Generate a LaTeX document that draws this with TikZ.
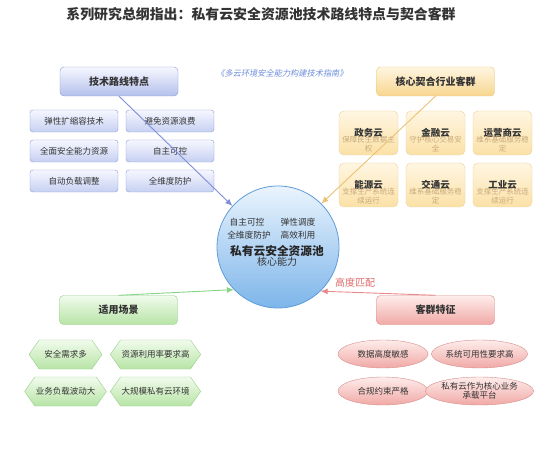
\documentclass[tikz,border=0pt]{standalone}
\usepackage{fontspec}
\setmainfont{Noto Sans CJK SC}
\newfontfamily\slantcjk[FakeSlant=0.2]{Noto Sans CJK SC}
\usetikzlibrary{arrows.meta,shapes.geometric,shapes.symbols}
\definecolor{txt}{HTML}{333333}
\definecolor{bluebd}{HTML}{8C9BD3}
\definecolor{bluetop}{HTML}{F6F7FF}
\definecolor{bluebot}{HTML}{B4C0EC}
\definecolor{boxbot}{HTML}{C6D0F2}
\definecolor{orbd}{HTML}{E9C77E}
\definecolor{ortop}{HTML}{FFF6E2}
\definecolor{orbot}{HTML}{F7D68E}
\definecolor{cardbot}{HTML}{FBE1A6}
\definecolor{cardsub}{HTML}{C4A373}
\definecolor{grbd}{HTML}{96CF88}
\definecolor{grtop}{HTML}{F1FBEC}
\definecolor{grbot}{HTML}{B7E4A6}
\definecolor{pkbd}{HTML}{D98C8C}
\definecolor{pktop}{HTML}{FEEDEB}
\definecolor{pkbot}{HTML}{F0A9A6}
\definecolor{corebd}{HTML}{5E9DDA}
\definecolor{coretop}{HTML}{EAF4FD}
\definecolor{corebot}{HTML}{7DB5EA}
\definecolor{arblue}{HTML}{7F8FD8}
\definecolor{arorange}{HTML}{EBC275}
\definecolor{argreen}{HTML}{86D486}
\definecolor{arred}{HTML}{E98A8A}
\definecolor{italblue}{HTML}{6F8EDC}
\definecolor{matchred}{HTML}{E06A6A}
\tikzset{
  hdr/.style={rounded corners=4pt, minimum width=118pt, minimum height=29pt, font=\fontsize{10}{12}\selectfont\bfseries, text=txt},
  bluehdr/.style={hdr, draw=bluebd, top color=bluetop, bottom color=bluebot},
  orhdr/.style={hdr, draw=orbd, top color=ortop, bottom color=orbot},
  grhdr/.style={hdr, draw=grbd, top color=grtop, bottom color=grbot},
  pkhdr/.style={hdr, draw=pkbd, top color=pktop, bottom color=pkbot},
  bluebox/.style={rounded corners=3pt, minimum width=88pt, minimum height=22pt, draw=bluebd, top color=bluetop, bottom color=boxbot, font=\fontsize{8.5}{10}\selectfont, text=txt},
  card/.style={rounded corners=5pt, minimum width=59pt, minimum height=44pt, draw=orbd!80, top color=ortop, bottom color=cardbot},
  cardtitle/.style={font=\fontsize{9.5}{11}\selectfont\bfseries, text=txt, inner sep=0pt},
  cardsubt/.style={font=\fontsize{7.5}{9}\selectfont, text=cardsub, align=center, inner sep=0pt, opacity=0.9},
  hexa/.style={signal, signal to=west and east, signal pointer angle=110, minimum height=29pt, inner xsep=1pt, draw=grbd, top color=grtop, bottom color=grbot, font=\fontsize{8.5}{10}\selectfont, text=txt},
  ell/.style={ellipse, minimum width=90pt, minimum height=28pt, inner sep=0pt, draw=pkbd, top color=pktop, bottom color=pkbot, font=\fontsize{8.5}{10}\selectfont, text=txt, align=center},
  conn/.style={line width=0.9pt, -{Latex[length=7pt,width=6pt]}},
  coretxt/.style={font=\fontsize{8.7}{10}\selectfont, text=txt, inner sep=0pt}
}
\begin{document}
\begin{tikzpicture}[x=1pt,y=-1pt]
\useasboundingbox[fill=white] (0,0) rectangle (554,473);
% title
\node[font=\fontsize{13.9}{16}\selectfont\bfseries, text=txt] (title) at (261,14) {系列研究总纲指出：私有云安全资源池技术路线特点与契合客群};
\node[font=\fontsize{8.2}{10}\selectfont\slantcjk, text=italblue] (src) at (282,73) {《多云环境安全能力构建技术指南》};
% headers
\node[bluehdr] (h1) at (119,81.5) {技术路线特点};
\node[orhdr] (h2) at (435.5,81.5) {核心契合行业客群};
\node[grhdr] (h3) at (118.5,310) {适用场景};
\node[pkhdr] (h4) at (435.5,310) {客群特征};
% core
\node[circle, minimum size=122pt, draw=corebd, line width=0.8pt, top color=coretop, bottom color=corebot] (core) at (278,247) {};
\node[coretxt] (c1) at (247,222) {自主可控};
\node[coretxt] (c2) at (298,222) {弹性调度};
\node[coretxt] (c3) at (249,235) {全维度防护};
\node[coretxt] (c4) at (298,235) {高效利用};
\node[font=\fontsize{11.7}{13}\selectfont\bfseries, text=black!85, inner sep=0pt] (c5) at (277,251) {私有云安全资源池};
\node[font=\fontsize{10}{12}\selectfont, text=txt, inner sep=0pt] (c6) at (277,262) {核心能力};
% left boxes
\node[bluebox] (b1) at (74,121) {弹性扩缩容技术};
\node[bluebox] (b2) at (170,121) {避免资源浪费};
\node[bluebox] (b3) at (74,151) {全面安全能力资源};
\node[bluebox] (b4) at (170,151) {自主可控};
\node[bluebox] (b5) at (74,181) {自动负载调整};
\node[bluebox] (b6) at (170,181) {全维度防护};
% cards
\node[card] (k1) at (368.5,133) {};
\node[card] (k2) at (435.5,133) {};
\node[card] (k3) at (502.5,133) {};
\node[card] (k4) at (368.5,185) {};
\node[card] (k5) at (435.5,185) {};
\node[card] (k6) at (502.5,185) {};
\node[cardtitle] (t1) at (368.5,132.5) {政务云};
\node[cardtitle] (t2) at (435.5,132.5) {金融云};
\node[cardtitle] (t3) at (502.5,132.5) {运营商云};
\node[cardtitle] (t4) at (368.5,184.5) {能源云};
\node[cardtitle] (t5) at (435.5,184.5) {交通云};
\node[cardtitle] (t6) at (502.5,184.5) {工业云};
\node[cardsubt] (s1) at (368.5,144.5) {保障民生数据主\\权};
\node[cardsubt] (s2) at (435.5,144.5) {守护核心交易安\\全};
\node[cardsubt] (s3) at (502.5,144.5) {维系基础服务稳\\定};
\node[cardsubt] (s4) at (368.5,196.5) {支撑生产系统连\\续运行};
\node[cardsubt] (s5) at (435.5,196.5) {维系基础服务稳\\定};
\node[cardsubt] (s6) at (502.5,196.5) {支撑生产系统连\\续运行};
% hexagons
\node[hexa, minimum width=73pt] (x1) at (65.5,354.5) {安全需求多};
\node[hexa, minimum width=89pt] (x2) at (155.5,354.5) {资源利用率要求高};
\node[hexa, minimum width=73pt] (x3) at (65.5,391.5) {业务负载波动大};
\node[hexa, minimum width=89pt] (x4) at (155.5,391.5) {大规模私有云环境};
% ellipses
\node[ell] (e1) at (383,354) {数据高度敏感};
\node[ell] (e2) at (479.5,354) {系统可用性要求高};
\node[ell] (e3) at (383,391) {合规约束严格};
\node[ell, font=\fontsize{8.5}{9.5}\selectfont] (e4) at (479.5,391) {私有云作为核心业务\\承载平台};
% connectors
\draw[conn, arblue] (h1.south) -- (core.138);
\draw[conn, arorange] (h2.south) -- (core.45);
\draw[conn, argreen] (h3.north) -- (core.224);
\draw[conn, arred] (h4.north) -- (core.-46);
\node[font=\fontsize{10}{12}\selectfont, text=matchred] (lbl) at (355,283) {高度匹配};
\end{tikzpicture}
\end{document}
